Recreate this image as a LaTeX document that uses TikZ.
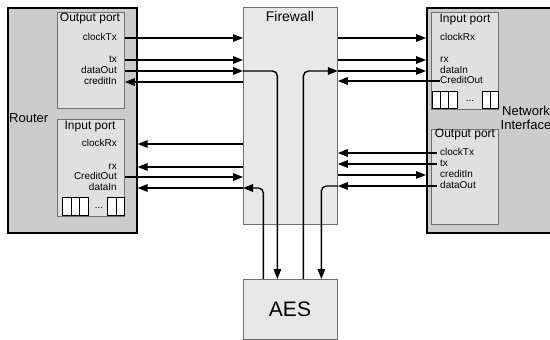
\documentclass[tikz,border=0pt]{standalone}
\usepackage{fontspec}
\setmainfont{Liberation Sans}
\usepackage{xcolor}
\usetikzlibrary{arrows.meta}
\definecolor{outerfill}{HTML}{CCCCCC}
\definecolor{portfill}{HTML}{E0E0E0}
\definecolor{blockfill}{HTML}{E8E8E8}
\definecolor{edgegray}{HTML}{707070}

\begin{document}
\begin{tikzpicture}[x=1pt,y=-1pt,
    outer/.style={draw=black, line width=1.6pt, fill=outerfill, anchor=north west, inner sep=0pt},
    port/.style={draw=edgegray, line width=0.8pt, fill=portfill, anchor=north west, inner sep=0pt, minimum width=67pt},
    block/.style={draw=edgegray, line width=0.8pt, fill=blockfill, anchor=north west, inner sep=0pt, minimum width=94pt},
    sig/.style={font=\fontsize{10}{11}\selectfont, inner sep=0pt, text height=7pt, text depth=2pt},
    title/.style={font=\fontsize{12}{13}\selectfont, inner sep=0pt},
    wire/.style={line width=1.4pt, -{Triangle[length=10pt,width=7.5pt]}},
    elbow/.style={wire, rounded corners=5pt}]
    \useasboundingbox (0,0) rectangle (550,340);
    \clip (0,0) rectangle (550,340);

    % boxes
    \node[outer, minimum width=129pt, minimum height=225pt] (router) at (7,7) {};
    \node[outer, minimum width=180pt, minimum height=225pt] (ni) at (426,7) {};
    \node[port, minimum height=96pt] (rout) at (57,12) {};
    \node[port, minimum height=97pt] (rin) at (57,119) {};
    \node[port, minimum height=97pt] (niin) at (431,12) {};
    \node[port, minimum height=95pt] (niout) at (431,129) {};
    \node[block, minimum height=217pt] (fw) at (243,7) {};
    \node[block, minimum height=60pt] (aes) at (243,279) {};

    \node[font=\fontsize{13}{14}\selectfont, anchor=west, inner sep=0pt] (routername) at (9,118) {Router};
    \node[font=\fontsize{13}{14}\selectfont, align=center, inner sep=0pt] (niname) at (526,118) {Network\\Interface};
    \node[font=\fontsize{14}{15}\selectfont, inner sep=0pt] (fwname) at (290,16) {Firewall};
    \node[font=\fontsize{21}{22}\selectfont, inner sep=0pt] (aesname) at (290,309) {AES};

    \node[title] (routtitle) at (90,19) {Output port};
    \node[title] (rintitle) at (90,127) {Input port};
    \node[title] (niintitle) at (465,20) {Input port};
    \node[title] (nioutitle) at (465,135) {Output port};

    % buffers
    \draw[line width=0.8pt, fill=white] (62,197) rectangle (88,215) (71,197) -- (71,215) (79,197) -- (79,215);
    \draw[line width=0.8pt, fill=white] (107,197) rectangle (124,215) (116,197) -- (116,215);
    \node[sig] (rdots) at (99,206) {...};
    \draw[line width=0.8pt, fill=white] (432,91) rectangle (457,108) (440,91) -- (440,108) (448,91) -- (448,108);
    \draw[line width=0.8pt, fill=white] (482,91) rectangle (498,108) (490,91) -- (490,108);
    \node[sig] (ndots) at (470,99) {...};

    % router signals
    \node[sig, anchor=east] (rclkTx) at (117,38) {clockTx};
    \node[sig, anchor=east] (rtx) at (117,60) {tx};
    \node[sig, anchor=east] (rdataOut) at (117,71) {dataOut};
    \node[sig, anchor=east] (rcredIn) at (117,82) {creditIn};
    \node[sig, anchor=east] (rclkRx) at (117,144) {clockRx};
    \node[sig, anchor=east] (rrx) at (117,167) {rx};
    \node[sig, anchor=east] (rcredOut) at (117,177) {CreditOut};
    \node[sig, anchor=east] (rdataIn) at (117,188) {dataIn};

    % network interface signals
    \node[sig, anchor=west] (nclkRx) at (440,38) {clockRx};
    \node[sig, anchor=west] (nrx) at (440,60) {rx};
    \node[sig, anchor=west] (ndataIn) at (440,71) {dataIn};
    \node[sig, anchor=west] (ncredOut) at (440,81) {CreditOut};
    \node[sig, anchor=west] (nclkTx) at (440,153) {clockTx};
    \node[sig, anchor=west] (ntx) at (440,164) {tx};
    \node[sig, anchor=west] (ncredIn) at (440,175) {creditIn};
    \node[sig, anchor=west] (ndataOut) at (440,186) {dataOut};

    % router <-> firewall
    \draw[wire] (rout.east |- rclkTx) -- (fw.west |- rclkTx);
    \draw[wire] (rout.east |- rtx) -- (fw.west |- rtx);
    \draw[wire] (rout.east |- rdataOut) -- (fw.west |- rdataOut);
    \draw[elbow] (fw.west |- rdataOut) -| ([xshift=-13pt]aes.north);
    \draw[wire] (fw.west |- rcredIn) -- (rout.east |- rcredIn);
    \draw[wire] (fw.west |- rclkRx) -- (router.east |- rclkRx);
    \draw[wire] (fw.west |- rrx) -- (router.east |- rrx);
    \draw[wire] (rin.east |- rcredOut) -- (fw.west |- rcredOut);
    \draw[elbow] ([xshift=-27pt]aes.north) |- (fw.west |- rdataIn);
    \draw[wire] (fw.west |- rdataIn) -- (router.east |- rdataIn);

    % firewall <-> network interface
    \draw[wire] (fw.east |- nclkRx) -- (ni.west |- nclkRx);
    \draw[wire] (fw.east |- nrx) -- (ni.west |- nrx);
    \draw[elbow] ([xshift=13pt]aes.north) |- (fw.east |- ndataIn);
    \draw[wire] (fw.east |- ndataIn) -- (ni.west |- ndataIn);
    \draw[wire] (ncredOut.west) -- (fw.east |- ncredOut);
    \draw[wire] ([xshift=-3pt]nclkTx.west) -- (fw.east |- nclkTx);
    \draw[wire] ([xshift=-3pt]ntx.west) -- (fw.east |- ntx);
    \draw[wire] (fw.east |- ncredIn) -- (ni.west |- ncredIn);
    \draw[wire] ([xshift=-3pt]ndataOut.west) -- (fw.east |- ndataOut);
    \draw[elbow] (fw.east |- ndataOut) -| ([xshift=31pt]aes.north);
\end{tikzpicture}
\end{document}
